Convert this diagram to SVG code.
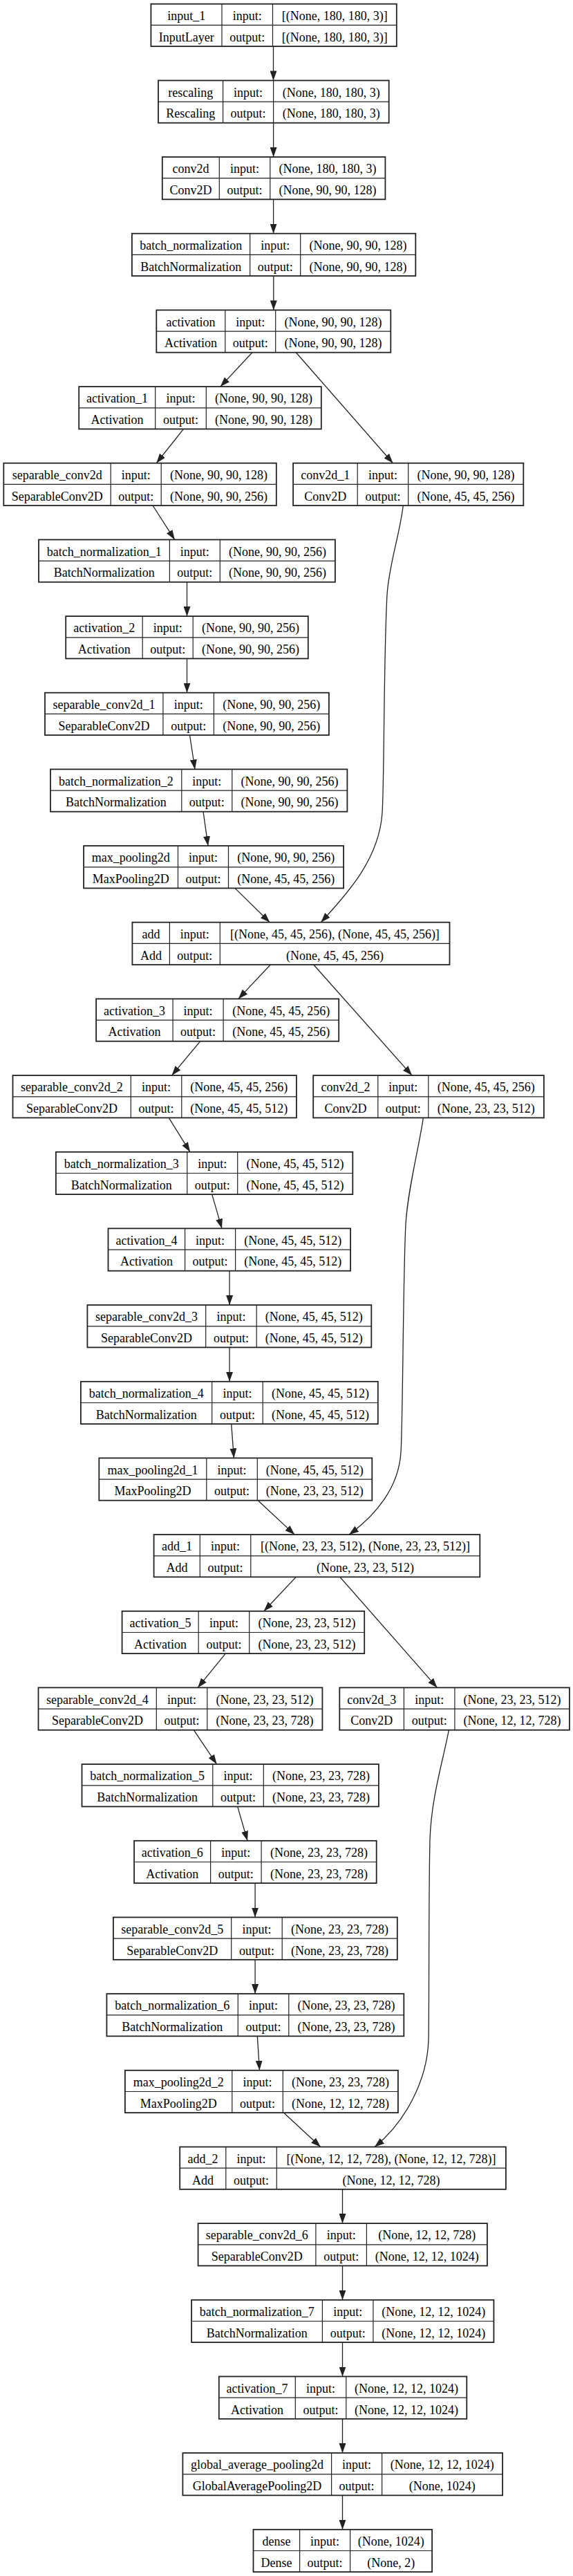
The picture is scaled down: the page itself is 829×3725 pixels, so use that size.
<svg xmlns="http://www.w3.org/2000/svg" width="829" height="3725" viewBox="0 0 829 3725">
<style>
.box{fill:#fff;stroke:#222;stroke-width:1.8}
.sep{fill:none;stroke:#222;stroke-width:1.2}
text{font-family:"Liberation Serif","Times New Roman",serif;font-size:18px;text-anchor:middle;fill:#000}
.edge{fill:none;stroke:#222;stroke-width:1.3;marker-end:url(#arrow)}
</style>
<defs>
<marker id="arrow" markerUnits="userSpaceOnUse" markerWidth="14" markerHeight="10" refX="14" refY="5" orient="auto" viewBox="0 0 14 10"><path d="M0,0 L14,5 L0,10 z" fill="#222"/></marker>
</defs>
<rect width="829" height="3725" fill="#fff"/>
<g id="edges">
<path class="edge" d="M395.5,67 V116.4"/>
<path class="edge" d="M395.6,177.7 V227"/>
<path class="edge" d="M395.6,288.3 V337.7"/>
<path class="edge" d="M395.8,399 V448.4"/>
<path class="edge" d="M364.9,509.7 L318.9,559.1"/>
<path class="edge" d="M428.3,509.7 L568.5,669.7"/>
<path class="edge" d="M265.5,620.4 L226.3,669.7"/>
<path class="edge" d="M221,731 L252.8,780.4"/>
<path class="edge" d="M583.3,731 C578,775 563,815 560,860 C555,950 556,1130 553,1175 C549,1240 505,1290 464.3,1333.7"/>
<path class="edge" d="M270.5,841.7 V891.1"/>
<path class="edge" d="M270.5,952.4 V1001.7"/>
<path class="edge" d="M274.5,1063 L282,1112.4"/>
<path class="edge" d="M294,1173.7 L301,1223.1"/>
<path class="edge" d="M340,1284.4 L390.3,1333.7"/>
<path class="edge" d="M391.3,1395 L344.8,1444.4"/>
<path class="edge" d="M453.7,1395 L596,1555.1"/>
<path class="edge" d="M289.8,1505.7 L248.5,1555.1"/>
<path class="edge" d="M244.3,1616.4 L275,1665.8"/>
<path class="edge" d="M612.4,1616.4 C606,1660 590,1720 587,1770 C583,1850 583,2050 580,2100 C577,2150 545,2190 505,2219.1"/>
<path class="edge" d="M306.7,1727.1 L321,1776.4"/>
<path class="edge" d="M332.1,1837.7 V1887.1"/>
<path class="edge" d="M332.1,1948.4 V1997.8"/>
<path class="edge" d="M334.7,2059.1 L338.4,2108.4"/>
<path class="edge" d="M373.3,2169.7 L426.2,2219.1"/>
<path class="edge" d="M428.3,2280.4 L381.8,2329.8"/>
<path class="edge" d="M491.8,2280.4 L632.5,2440.4"/>
<path class="edge" d="M326.3,2391.1 L286.1,2440.4"/>
<path class="edge" d="M280.3,2501.7 L313.6,2551.1"/>
<path class="edge" d="M649.4,2501.7 C640,2550 624,2600 622,2660 C620,2750 621,2900 620,2950 C618,3010 585,3070 542,3104.5"/>
<path class="edge" d="M343.7,2612.4 L358,2661.8"/>
<path class="edge" d="M369.1,2723.1 V2772.5"/>
<path class="edge" d="M369.1,2833.8 V2883.1"/>
<path class="edge" d="M372.3,2944.4 L375.5,2993.8"/>
<path class="edge" d="M410.4,3055.1 L463.8,3104.5"/>
<path class="edge" d="M495.5,3165.8 V3215.1"/>
<path class="edge" d="M495.5,3276.4 V3325.8"/>
<path class="edge" d="M495.5,3387.1 V3436.5"/>
<path class="edge" d="M495.5,3497.8 V3547.1"/>
<path class="edge" d="M495.5,3608.4 V3657.8"/>
</g>
<g id="input_1" transform="translate(0,5.7)"><rect class="box" x="218.4" y="0" width="355.4" height="61.3"/><path class="sep" d="M321,0V61.3M394.5,0V61.3M218.4,30.7H573.8"/><text x="269.7" y="23.3">input_1</text><text x="357.75" y="23.3">input:</text><text x="484.15" y="23.3">[(None, 180, 180, 3)]</text><text x="269.7" y="54">InputLayer</text><text x="357.75" y="54">output:</text><text x="484.15" y="54">[(None, 180, 180, 3)]</text></g>
<g id="rescaling" transform="translate(0,116.4)"><rect class="box" x="229" y="0" width="333.7" height="61.3"/><path class="sep" d="M322.6,0V61.3M395.6,0V61.3M229,30.7H562.7"/><text x="275.8" y="23.3">rescaling</text><text x="359.1" y="23.3">input:</text><text x="479.15" y="23.3">(None, 180, 180, 3)</text><text x="275.8" y="54">Rescaling</text><text x="359.1" y="54">output:</text><text x="479.15" y="54">(None, 180, 180, 3)</text></g>
<g id="conv2d" transform="translate(0,227)"><rect class="box" x="234.8" y="0" width="322.6" height="61.3"/><path class="sep" d="M317.3,0V61.3M390.8,0V61.3M234.8,30.7H557.4"/><text x="276.05" y="23.3">conv2d</text><text x="354.05" y="23.3">input:</text><text x="474.1" y="23.3">(None, 180, 180, 3)</text><text x="276.05" y="54">Conv2D</text><text x="354.05" y="54">output:</text><text x="474.1" y="54">(None, 90, 90, 128)</text></g>
<g id="batch_normalization" transform="translate(0,337.7)"><rect class="box" x="190.9" y="0" width="410.4" height="61.3"/><path class="sep" d="M361.7,0V61.3M434.7,0V61.3M190.9,30.7H601.3"/><text x="276.3" y="23.3">batch_normalization</text><text x="398.2" y="23.3">input:</text><text x="518" y="23.3">(None, 90, 90, 128)</text><text x="276.3" y="54">BatchNormalization</text><text x="398.2" y="54">output:</text><text x="518" y="54">(None, 90, 90, 128)</text></g>
<g id="activation" transform="translate(0,448.4)"><rect class="box" x="226.3" y="0" width="339" height="61.3"/><path class="sep" d="M325.8,0V61.3M398.7,0V61.3M226.3,30.7H565.3"/><text x="276.05" y="23.3">activation</text><text x="362.25" y="23.3">input:</text><text x="482" y="23.3">(None, 90, 90, 128)</text><text x="276.05" y="54">Activation</text><text x="362.25" y="54">output:</text><text x="482" y="54">(None, 90, 90, 128)</text></g>
<g id="activation_1" transform="translate(0,559.1)"><rect class="box" x="114.2" y="0" width="350.6" height="61.3"/><path class="sep" d="M224.7,0V61.3M298.3,0V61.3M114.2,30.7H464.8"/><text x="169.45" y="23.3">activation_1</text><text x="261.5" y="23.3">input:</text><text x="381.55" y="23.3">(None, 90, 90, 128)</text><text x="169.45" y="54">Activation</text><text x="261.5" y="54">output:</text><text x="381.55" y="54">(None, 90, 90, 128)</text></g>
<g id="separable_conv2d" transform="translate(0,669.7)"><rect class="box" x="5.3" y="0" width="394.5" height="61.3"/><path class="sep" d="M160.2,0V61.3M233.2,0V61.3M5.3,30.7H399.8"/><text x="82.75" y="23.3">separable_conv2d</text><text x="196.7" y="23.3">input:</text><text x="316.5" y="23.3">(None, 90, 90, 128)</text><text x="82.75" y="54">SeparableConv2D</text><text x="196.7" y="54">output:</text><text x="316.5" y="54">(None, 90, 90, 256)</text></g>
<g id="conv2d_1" transform="translate(0,669.7)"><rect class="box" x="424.1" y="0" width="333.2" height="61.3"/><path class="sep" d="M517.2,0V61.3M590.7,0V61.3M424.1,30.7H757.3"/><text x="470.65" y="23.3">conv2d_1</text><text x="553.95" y="23.3">input:</text><text x="674" y="23.3">(None, 90, 90, 128)</text><text x="470.65" y="54">Conv2D</text><text x="553.95" y="54">output:</text><text x="674" y="54">(None, 45, 45, 256)</text></g>
<g id="batch_normalization_1" transform="translate(0,780.4)"><rect class="box" x="56" y="0" width="428.9" height="61.3"/><path class="sep" d="M245.4,0V61.3M318.3,0V61.3M56,30.7H484.9"/><text x="150.7" y="23.3">batch_normalization_1</text><text x="281.85" y="23.3">input:</text><text x="401.6" y="23.3">(None, 90, 90, 256)</text><text x="150.7" y="54">BatchNormalization</text><text x="281.85" y="54">output:</text><text x="401.6" y="54">(None, 90, 90, 256)</text></g>
<g id="activation_2" transform="translate(0,891.1)"><rect class="box" x="95.2" y="0" width="350.6" height="61.3"/><path class="sep" d="M206.2,0V61.3M279.2,0V61.3M95.2,30.7H445.8"/><text x="150.7" y="23.3">activation_2</text><text x="242.7" y="23.3">input:</text><text x="362.5" y="23.3">(None, 90, 90, 256)</text><text x="150.7" y="54">Activation</text><text x="242.7" y="54">output:</text><text x="362.5" y="54">(None, 90, 90, 256)</text></g>
<g id="separable_conv2d_1" transform="translate(0,1001.7)"><rect class="box" x="65" y="0" width="410.9" height="61.3"/><path class="sep" d="M235.9,0V61.3M309.4,0V61.3M65,30.7H475.9"/><text x="150.45" y="23.3">separable_conv2d_1</text><text x="272.65" y="23.3">input:</text><text x="392.65" y="23.3">(None, 90, 90, 256)</text><text x="150.45" y="54">SeparableConv2D</text><text x="272.65" y="54">output:</text><text x="392.65" y="54">(None, 90, 90, 256)</text></g>
<g id="batch_normalization_2" transform="translate(0,1112.4)"><rect class="box" x="73" y="0" width="429.4" height="61.3"/><path class="sep" d="M262.8,0V61.3M335.8,0V61.3M73,30.7H502.4"/><text x="167.9" y="23.3">batch_normalization_2</text><text x="299.3" y="23.3">input:</text><text x="419.1" y="23.3">(None, 90, 90, 256)</text><text x="167.9" y="54">BatchNormalization</text><text x="299.3" y="54">output:</text><text x="419.1" y="54">(None, 90, 90, 256)</text></g>
<g id="max_pooling2d" transform="translate(0,1223.1)"><rect class="box" x="121.1" y="0" width="376" height="61.3"/><path class="sep" d="M257.5,0V61.3M330.5,0V61.3M121.1,30.7H497.1"/><text x="189.3" y="23.3">max_pooling2d</text><text x="294" y="23.3">input:</text><text x="413.8" y="23.3">(None, 90, 90, 256)</text><text x="189.3" y="54">MaxPooling2D</text><text x="294" y="54">output:</text><text x="413.8" y="54">(None, 45, 45, 256)</text></g>
<g id="add" transform="translate(0,1333.7)"><rect class="box" x="191.4" y="0" width="459.1" height="61.3"/><path class="sep" d="M245.4,0V61.3M318.3,0V61.3M191.4,30.7H650.5"/><text x="218.4" y="23.3">add</text><text x="281.85" y="23.3">input:</text><text x="484.4" y="23.3">[(None, 45, 45, 256), (None, 45, 45, 256)]</text><text x="218.4" y="54">Add</text><text x="281.85" y="54">output:</text><text x="484.4" y="54">(None, 45, 45, 256)</text></g>
<g id="activation_3" transform="translate(0,1444.4)"><rect class="box" x="139.1" y="0" width="351.1" height="61.3"/><path class="sep" d="M250.1,0V61.3M323.1,0V61.3M139.1,30.7H490.2"/><text x="194.6" y="23.3">activation_3</text><text x="286.6" y="23.3">input:</text><text x="406.65" y="23.3">(None, 45, 45, 256)</text><text x="194.6" y="54">Activation</text><text x="286.6" y="54">output:</text><text x="406.65" y="54">(None, 45, 45, 256)</text></g>
<g id="separable_conv2d_2" transform="translate(0,1555.1)"><rect class="box" x="18.5" y="0" width="410.4" height="61.3"/><path class="sep" d="M189.3,0V61.3M262.8,0V61.3M18.5,30.7H428.9"/><text x="103.9" y="23.3">separable_conv2d_2</text><text x="226.05" y="23.3">input:</text><text x="345.85" y="23.3">(None, 45, 45, 256)</text><text x="103.9" y="54">SeparableConv2D</text><text x="226.05" y="54">output:</text><text x="345.85" y="54">(None, 45, 45, 512)</text></g>
<g id="conv2d_2" transform="translate(0,1555.1)"><rect class="box" x="453.2" y="0" width="333.7" height="61.3"/><path class="sep" d="M546.8,0V61.3M619.8,0V61.3M453.2,30.7H786.9"/><text x="500" y="23.3">conv2d_2</text><text x="583.3" y="23.3">input:</text><text x="703.35" y="23.3">(None, 45, 45, 256)</text><text x="500" y="54">Conv2D</text><text x="583.3" y="54">output:</text><text x="703.35" y="54">(None, 23, 23, 512)</text></g>
<g id="batch_normalization_3" transform="translate(0,1665.8)"><rect class="box" x="80.9" y="0" width="429.4" height="61.3"/><path class="sep" d="M270.8,0V61.3M343.7,0V61.3M80.9,30.7H510.3"/><text x="175.85" y="23.3">batch_normalization_3</text><text x="307.25" y="23.3">input:</text><text x="427" y="23.3">(None, 45, 45, 512)</text><text x="175.85" y="54">BatchNormalization</text><text x="307.25" y="54">output:</text><text x="427" y="54">(None, 45, 45, 512)</text></g>
<g id="activation_4" transform="translate(0,1776.4)"><rect class="box" x="156.5" y="0" width="350.6" height="61.3"/><path class="sep" d="M267.6,0V61.3M340.6,0V61.3M156.5,30.7H507.1"/><text x="212.05" y="23.3">activation_4</text><text x="304.1" y="23.3">input:</text><text x="423.85" y="23.3">(None, 45, 45, 512)</text><text x="212.05" y="54">Activation</text><text x="304.1" y="54">output:</text><text x="423.85" y="54">(None, 45, 45, 512)</text></g>
<g id="separable_conv2d_3" transform="translate(0,1887.1)"><rect class="box" x="126.4" y="0" width="410.9" height="61.3"/><path class="sep" d="M297.7,0V61.3M371.2,0V61.3M126.4,30.7H537.3"/><text x="212.05" y="23.3">separable_conv2d_3</text><text x="334.45" y="23.3">input:</text><text x="454.25" y="23.3">(None, 45, 45, 512)</text><text x="212.05" y="54">SeparableConv2D</text><text x="334.45" y="54">output:</text><text x="454.25" y="54">(None, 45, 45, 512)</text></g>
<g id="batch_normalization_4" transform="translate(0,1997.8)"><rect class="box" x="116.9" y="0" width="429.9" height="61.3"/><path class="sep" d="M306.7,0V61.3M380.2,0V61.3M116.9,30.7H546.8"/><text x="211.8" y="23.3">batch_normalization_4</text><text x="343.45" y="23.3">input:</text><text x="463.5" y="23.3">(None, 45, 45, 512)</text><text x="211.8" y="54">BatchNormalization</text><text x="343.45" y="54">output:</text><text x="463.5" y="54">(None, 45, 45, 512)</text></g>
<g id="max_pooling2d_1" transform="translate(0,2108.4)"><rect class="box" x="143.3" y="0" width="395" height="61.3"/><path class="sep" d="M298.8,0V61.3M372.3,0V61.3M143.3,30.7H538.3"/><text x="221.05" y="23.3">max_pooling2d_1</text><text x="335.55" y="23.3">input:</text><text x="455.3" y="23.3">(None, 45, 45, 512)</text><text x="221.05" y="54">MaxPooling2D</text><text x="335.55" y="54">output:</text><text x="455.3" y="54">(None, 23, 23, 512)</text></g>
<g id="add_1" transform="translate(0,2219.1)"><rect class="box" x="222.6" y="0" width="471.7" height="61.3"/><path class="sep" d="M289.3,0V61.3M362.8,0V61.3M222.6,30.7H694.3"/><text x="255.95" y="23.3">add_1</text><text x="326.05" y="23.3">input:</text><text x="528.55" y="23.3">[(None, 23, 23, 512), (None, 23, 23, 512)]</text><text x="255.95" y="54">Add</text><text x="326.05" y="54">output:</text><text x="528.55" y="54">(None, 23, 23, 512)</text></g>
<g id="activation_5" transform="translate(0,2329.8)"><rect class="box" x="176.6" y="0" width="350.6" height="61.3"/><path class="sep" d="M287.2,0V61.3M360.7,0V61.3M176.6,30.7H527.2"/><text x="231.9" y="23.3">activation_5</text><text x="323.95" y="23.3">input:</text><text x="443.95" y="23.3">(None, 23, 23, 512)</text><text x="231.9" y="54">Activation</text><text x="323.95" y="54">output:</text><text x="443.95" y="54">(None, 23, 23, 512)</text></g>
<g id="separable_conv2d_4" transform="translate(0,2440.4)"><rect class="box" x="55.5" y="0" width="410.9" height="61.3"/><path class="sep" d="M226.3,0V61.3M299.8,0V61.3M55.5,30.7H466.4"/><text x="140.9" y="23.3">separable_conv2d_4</text><text x="263.05" y="23.3">input:</text><text x="383.1" y="23.3">(None, 23, 23, 512)</text><text x="140.9" y="54">SeparableConv2D</text><text x="263.05" y="54">output:</text><text x="383.1" y="54">(None, 23, 23, 728)</text></g>
<g id="conv2d_3" transform="translate(0,2440.4)"><rect class="box" x="491.3" y="0" width="332.6" height="61.3"/><path class="sep" d="M584.4,0V61.3M657.9,0V61.3M491.3,30.7H823.9"/><text x="537.85" y="23.3">conv2d_3</text><text x="621.15" y="23.3">input:</text><text x="740.9" y="23.3">(None, 23, 23, 512)</text><text x="537.85" y="54">Conv2D</text><text x="621.15" y="54">output:</text><text x="740.9" y="54">(None, 12, 12, 728)</text></g>
<g id="batch_normalization_5" transform="translate(0,2551.1)"><rect class="box" x="118.5" y="0" width="429.4" height="61.3"/><path class="sep" d="M307.8,0V61.3M381.3,0V61.3M118.5,30.7H547.9"/><text x="213.15" y="23.3">batch_normalization_5</text><text x="344.55" y="23.3">input:</text><text x="464.6" y="23.3">(None, 23, 23, 728)</text><text x="213.15" y="54">BatchNormalization</text><text x="344.55" y="54">output:</text><text x="464.6" y="54">(None, 23, 23, 728)</text></g>
<g id="activation_6" transform="translate(0,2661.8)"><rect class="box" x="194.1" y="0" width="350.6" height="61.3"/><path class="sep" d="M304.6,0V61.3M378.1,0V61.3M194.1,30.7H544.7"/><text x="249.35" y="23.3">activation_6</text><text x="341.35" y="23.3">input:</text><text x="461.4" y="23.3">(None, 23, 23, 728)</text><text x="249.35" y="54">Activation</text><text x="341.35" y="54">output:</text><text x="461.4" y="54">(None, 23, 23, 728)</text></g>
<g id="separable_conv2d_5" transform="translate(0,2772.5)"><rect class="box" x="163.9" y="0" width="410.9" height="61.3"/><path class="sep" d="M334.7,0V61.3M408.2,0V61.3M163.9,30.7H574.8"/><text x="249.3" y="23.3">separable_conv2d_5</text><text x="371.45" y="23.3">input:</text><text x="491.5" y="23.3">(None, 23, 23, 728)</text><text x="249.3" y="54">SeparableConv2D</text><text x="371.45" y="54">output:</text><text x="491.5" y="54">(None, 23, 23, 728)</text></g>
<g id="batch_normalization_6" transform="translate(0,2883.1)"><rect class="box" x="154.4" y="0" width="429.9" height="61.3"/><path class="sep" d="M344.3,0V61.3M417.8,0V61.3M154.4,30.7H584.3"/><text x="249.35" y="23.3">batch_normalization_6</text><text x="381.05" y="23.3">input:</text><text x="501.05" y="23.3">(None, 23, 23, 728)</text><text x="249.35" y="54">BatchNormalization</text><text x="381.05" y="54">output:</text><text x="501.05" y="54">(None, 23, 23, 728)</text></g>
<g id="max_pooling2d_2" transform="translate(0,2993.8)"><rect class="box" x="180.9" y="0" width="395" height="61.3"/><path class="sep" d="M335.8,0V61.3M409.3,0V61.3M180.9,30.7H575.9"/><text x="258.35" y="23.3">max_pooling2d_2</text><text x="372.55" y="23.3">input:</text><text x="492.6" y="23.3">(None, 23, 23, 728)</text><text x="258.35" y="54">MaxPooling2D</text><text x="372.55" y="54">output:</text><text x="492.6" y="54">(None, 12, 12, 728)</text></g>
<g id="add_2" transform="translate(0,3104.5)"><rect class="box" x="260.2" y="0" width="471.7" height="61.3"/><path class="sep" d="M326.8,0V61.3M400.3,0V61.3M260.2,30.7H731.9"/><text x="293.5" y="23.3">add_2</text><text x="363.55" y="23.3">input:</text><text x="566.1" y="23.3">[(None, 12, 12, 728), (None, 12, 12, 728)]</text><text x="293.5" y="54">Add</text><text x="363.55" y="54">output:</text><text x="566.1" y="54">(None, 12, 12, 728)</text></g>
<g id="separable_conv2d_6" transform="translate(0,3215.1)"><rect class="box" x="286.6" y="0" width="418.3" height="61.3"/><path class="sep" d="M456.9,0V61.3M530.4,0V61.3M286.6,30.7H704.9"/><text x="371.75" y="23.3">separable_conv2d_6</text><text x="493.65" y="23.3">input:</text><text x="617.65" y="23.3">(None, 12, 12, 728)</text><text x="371.75" y="54">SeparableConv2D</text><text x="493.65" y="54">output:</text><text x="617.65" y="54">(None, 12, 12, 1024)</text></g>
<g id="batch_normalization_7" transform="translate(0,3325.8)"><rect class="box" x="277.1" y="0" width="437.3" height="61.3"/><path class="sep" d="M466.4,0V61.3M539.9,0V61.3M277.1,30.7H714.4"/><text x="371.75" y="23.3">batch_normalization_7</text><text x="503.15" y="23.3">input:</text><text x="627.15" y="23.3">(None, 12, 12, 1024)</text><text x="371.75" y="54">BatchNormalization</text><text x="503.15" y="54">output:</text><text x="627.15" y="54">(None, 12, 12, 1024)</text></g>
<g id="activation_7" transform="translate(0,3436.5)"><rect class="box" x="316.8" y="0" width="358.5" height="61.3"/><path class="sep" d="M427.3,0V61.3M500.8,0V61.3M316.8,30.7H675.3"/><text x="372.05" y="23.3">activation_7</text><text x="464.05" y="23.3">input:</text><text x="588.05" y="23.3">(None, 12, 12, 1024)</text><text x="372.05" y="54">Activation</text><text x="464.05" y="54">output:</text><text x="588.05" y="54">(None, 12, 12, 1024)</text></g>
<g id="global_average_pooling2d" transform="translate(0,3547.1)"><rect class="box" x="264.4" y="0" width="462.7" height="61.3"/><path class="sep" d="M479.6,0V61.3M552.6,0V61.3M264.4,30.7H727.1"/><text x="372" y="23.3">global_average_pooling2d</text><text x="516.1" y="23.3">input:</text><text x="639.85" y="23.3">(None, 12, 12, 1024)</text><text x="372" y="54">GlobalAveragePooling2D</text><text x="516.1" y="54">output:</text><text x="639.85" y="54">(None, 1024)</text></g>
<g id="dense" transform="translate(0,3657.8)"><rect class="box" x="366.5" y="0" width="258.6" height="61.3"/><path class="sep" d="M433.6,0V61.3M506.6,0V61.3M366.5,30.7H625.1"/><text x="400.05" y="23.3">dense</text><text x="470.1" y="23.3">input:</text><text x="565.85" y="23.3">(None, 1024)</text><text x="400.05" y="54">Dense</text><text x="470.1" y="54">output:</text><text x="565.85" y="54">(None, 2)</text></g>
</svg>
